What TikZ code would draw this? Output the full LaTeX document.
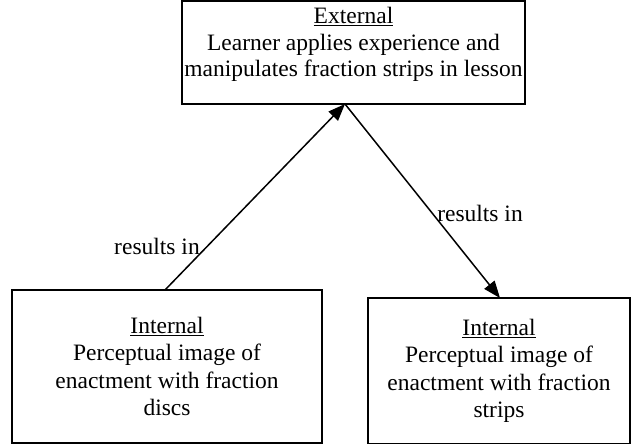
\documentclass[tikz,border=0pt]{standalone}
\usepackage{fontspec}
\setmainfont{Liberation Serif}
\usetikzlibrary{arrows.meta}
\tikzset{
  box/.style={draw, line width=2pt, inner sep=0pt, align=center,
    font=\fontsize{23.5}{27.5}\selectfont},
  lbl/.style={font=\fontsize{23.5}{27}\selectfont, inner sep=0pt},
  link/.style={line width=1.5pt, -{Triangle[length=17pt,width=13pt]}},
}
\begin{document}
\begin{tikzpicture}[x=1pt,y=-1pt]
  \useasboundingbox (0,0) rectangle (643,444);
  % top box
  \node[box, minimum width=343pt, minimum height=103pt] (ext) at (353.5,52.5) {};
  \node[lbl, align=center, font=\fontsize{23.5}{26.5}\selectfont] (exttext) at (353.5,44.5)
    {\underline{External}\\Learner applies experience and\\manipulates fraction strips in lesson};
  % bottom boxes
  \node[box, minimum width=310pt, minimum height=153pt] (disc) at (167,366.5)
    {\underline{Internal}\\Perceptual image of\\enactment with fraction\\discs};
  \node[box, minimum width=262pt, minimum height=146pt] (strip) at (499,371)
    {\underline{Internal}\\Perceptual image of\\enactment with fraction\\strips};
  % connector ends on the box edges
  \coordinate (apex) at (345,104);
  \coordinate (dtop) at (165,290);
  \coordinate (stop) at (500,298);
  \draw[link] (dtop) -- (apex);
  \draw[link] (apex) -- (stop);
  \node[lbl] (r1) at (157,246) {results in};
  \node[lbl] (r2) at (480,213) {results in};
\end{tikzpicture}
\end{document}
